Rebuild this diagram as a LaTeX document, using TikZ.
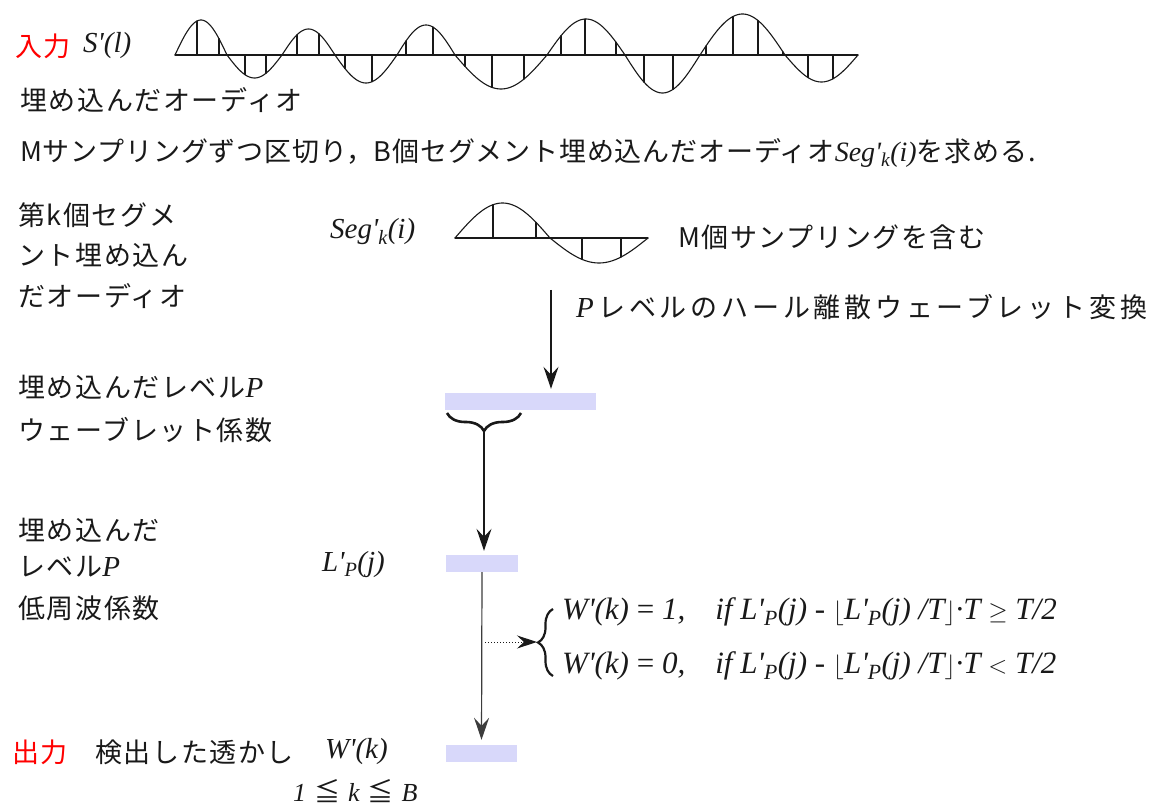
\documentclass[tikz,border=0pt]{standalone}
\usepackage{fontspec}
\setmainfont{Liberation Serif}
\newfontfamily\jp{Noto Sans CJK JP}
\usetikzlibrary{arrows.meta,decorations.pathreplacing}
\definecolor{barcol}{RGB}{216,216,250}
\definecolor{ink}{RGB}{25,25,25}
\newcommand\pr{\textquotesingle}
\newcommand\ti[1]{{\rmfamily\itshape\fontsize{29}{32}\selectfont #1}}
\tikzset{
 txt/.style={anchor=west, inner sep=0pt, text=ink, font=\itshape\fontsize{29}{32}\selectfont},
 jptxt/.style={anchor=west, inner sep=0pt, text=ink, font=\jp\addfontfeature{LetterSpace=6}\fontsize{27}{32}\selectfont},
 redtxt/.style={jptxt, text=red},
 bar/.style={fill=barcol, draw=none, minimum height=17pt, inner sep=0pt},
 wave/.style={line width=1.1pt, draw=ink, line cap=round, line join=round},
 arr/.style={line width=1.3pt, draw=ink, -{Stealth[length=22pt,width=15pt,inset=8pt]}},
 brc/.style={decorate, line width=2.6pt, draw=ink}
}
\begin{document}
\begin{tikzpicture}[x=1pt,y=-1pt]
\useasboundingbox (0,0) rectangle (1152,805);
\fill[white] (0,0) rectangle (1152,805);
% main waveform
\draw[wave] (175,55) -- (858,55);
\foreach \a/\b/\amp in {175/227/35, 227/282/-23, 282/335/26, 335/397/-28, 397/455/30, 455/547/-34, 547/625/36, 625/700/-38, 700/785/41, 785/858/-27}
  \draw[wave] plot[domain=\a:\b, samples=40, smooth] (\x,{55-\amp*sin((\x-\a)/(\b-\a)*180)});
\foreach \p/\a/\b/\amp in {197/175/227/35, 219/175/227/35, 245/227/282/-23, 266/227/282/-23, 297/282/335/26, 319/282/335/26, 345/335/397/-28, 372/335/397/-28, 406/397/455/30, 433/397/455/30, 465/455/547/-34, 492/455/547/-34, 524/455/547/-34, 561/547/625/36, 585/547/625/36, 616/547/625/36, 644/625/700/-38, 673/625/700/-38, 706/700/785/41, 733/700/785/41, 758/700/785/41, 783/700/785/41, 808/785/858/-27, 833/785/858/-27}
  \draw[wave] (\p,55) -- (\p,{55-\amp*sin((\p-\a)/(\b-\a)*180)});
% segment waveform
\draw[wave] (455,238) -- (648,238);
\foreach \a/\b/\amp in {455/550/35, 550/648/-25}
  \draw[wave] plot[domain=\a:\b, samples=40, smooth] (\x,{238-\amp*sin((\x-\a)/(\b-\a)*180)});
\foreach \p/\a/\b/\amp in {493/455/550/35, 536/455/550/35, 582/550/648/-25, 621/550/648/-25}
  \draw[wave] (\p,238) -- (\p,{238-\amp*sin((\p-\a)/(\b-\a)*180)});

% texts
\node[redtxt] (in) at (15,46) {入力};
\node[txt] (sl) at (83,46) {S\pr(l)};
\node[jptxt] (t1) at (20,100) {埋め込んだオーディオ};
\node[jptxt, font=\jp\addfontfeature{LetterSpace=3}\fontsize{27}{32}\selectfont] (t2) at (20,153) {Mサンプリングずつ区切り，B個セグメント埋め込んだオーディオ{\rmfamily\itshape\fontsize{28}{32}\selectfont Seg\pr\textsubscript{k}(i)}を求める.};
\node[jptxt] (l1) at (18,215) {第k個セグメ};
\node[jptxt] (l2) at (18,255) {ント埋め込ん};
\node[jptxt] (l3) at (18,296) {だオーディオ};
\node[txt] (seg) at (330,232) {Seg\pr\textsubscript{k}(i)};
\node[jptxt] (mc) at (678,237) {M個サンプリングを含む};
\node[jptxt, font=\jp\addfontfeature{LetterSpace=14}\fontsize{27}{32}\selectfont] (hw) at (576,307) {\ti{P}\,レベルのハール離散ウェーブレット変換};
\node[jptxt] (w1) at (18,387) {埋め込んだレベル\ti{P}};
\node[jptxt] (w2) at (18,430) {ウェーブレット係数};
\node[jptxt] (p1) at (18,530) {埋め込んだ};
\node[jptxt] (p2) at (18,567) {レベル\ti{P}};
\node[jptxt] (p3) at (18,608) {低周波係数};
\node[txt] (lp) at (322,565) {L\pr\textsubscript{P}(j)};
\node[txt, font=\itshape\fontsize{31}{34}\selectfont] (e1) at (562,612) {W\pr(k) {\upshape =} 1,\hspace{30pt}if L\pr\textsubscript{P}(j) - $\lfloor$L\pr\textsubscript{P}(j) /T$\rfloor$·T $\geq$ T/2};
\node[txt, font=\itshape\fontsize{31}{34}\selectfont] (e2) at (562,666) {W\pr(k) {\upshape =} 0,\hspace{30pt}if L\pr\textsubscript{P}(j) - $\lfloor$L\pr\textsubscript{P}(j) /T$\rfloor$·T $<$ T/2};
\node[redtxt] (out) at (12,752) {出力};
\node[jptxt] (det) at (95,752) {検出した透かし};
\node[txt] (wk) at (325,752) {W\pr(k)};
\node[txt, font=\itshape\fontsize{26}{28}\selectfont] (rng) at (293,791) {1\hspace{8pt}{\jp\upshape ≦}\hspace{8pt}k\hspace{8pt}{\jp\upshape ≦}\hspace{8pt}B};

% bars
\node[bar, minimum width=151pt] (bar1) at (520.5,401.5) {};
\node[bar, minimum width=72pt] (bar2) at (482,563.5) {};
\node[bar, minimum width=71pt] (bar3) at (481.5,753.5) {};

% braces
\draw[brc, decoration={brace, amplitude=18pt, mirror}] (447,413) -- (521,413);
\coordinate (bt) at (484,432);
\draw[brc, line width=2.2pt, decoration={brace, amplitude=15pt}] (553,676) -- (553,609);
\coordinate (eb) at (537,642);

% arrows
\coordinate (a1) at (551,290);
\draw[arr, shorten >=4pt] (a1) -- (a1 |- bar1.north);
\draw[arr, shorten >=4pt] (bt) -- (bt |- bar2.north);
\draw[arr, line width=1.2pt, draw=ink!85, shorten >=5pt] (bar2.south) -- (bar3.north);
\coordinate (dl) at (485,642);
\draw[ink, line width=1pt, dotted, -{Stealth[length=20pt,width=13pt,inset=7pt]}] (dl) -- (eb);
\end{tikzpicture}
\end{document}
